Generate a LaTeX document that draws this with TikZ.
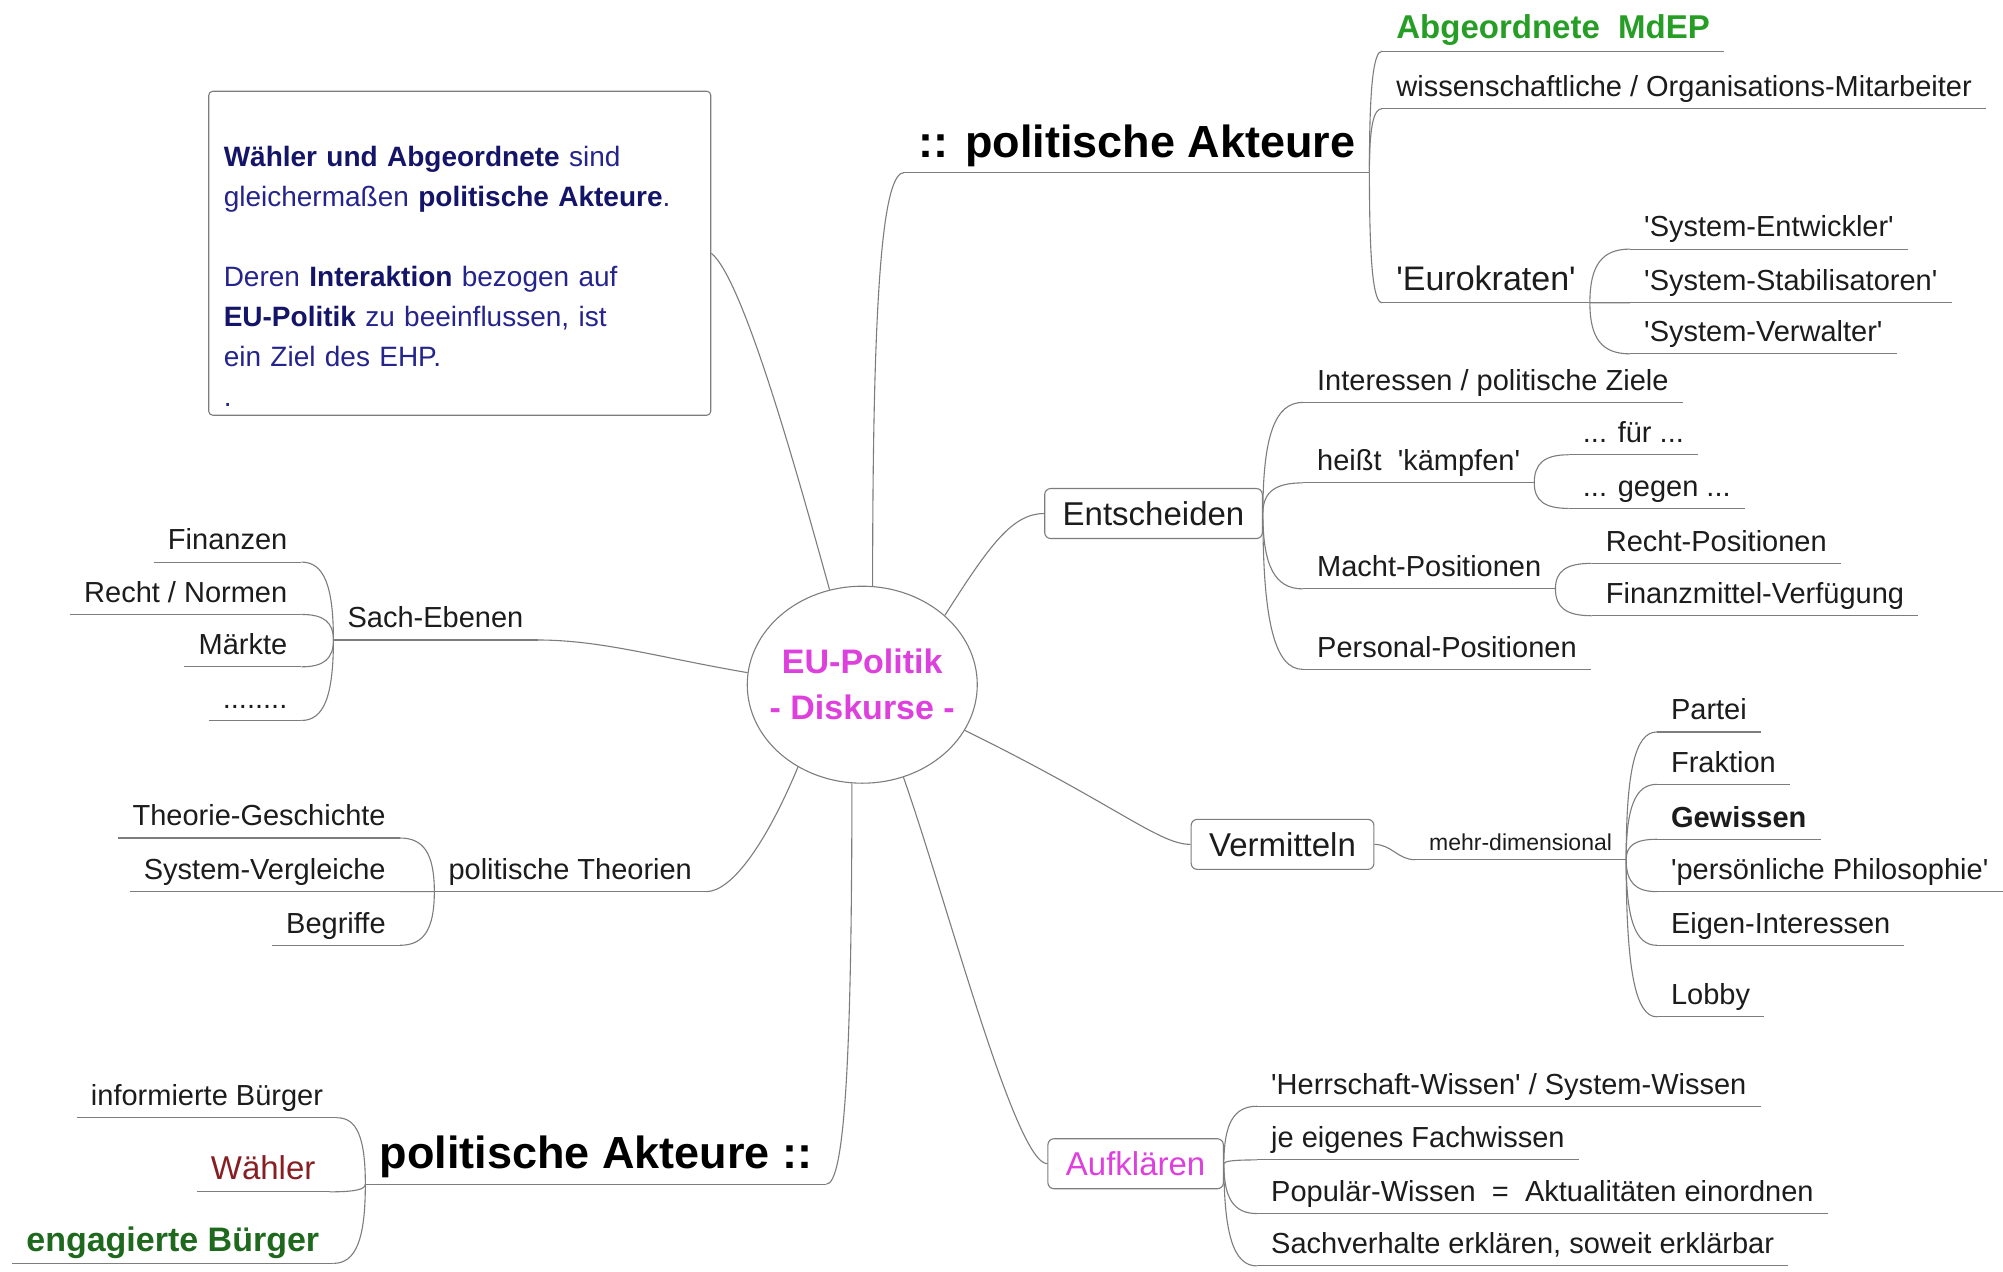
\documentclass[tikz,border=0pt]{standalone}
\usepackage{fontspec}
\setmainfont{Liberation Sans}
\usetikzlibrary{shapes.geometric,calc}
\definecolor{lgray}{RGB}{125,125,125}
\definecolor{txt}{RGB}{28,28,28}
\definecolor{eumag}{RGB}{222,64,222}
\definecolor{mdepgreen}{RGB}{38,158,38}
\definecolor{darkgreen}{RGB}{30,105,30}
\definecolor{darkred}{RGB}{135,30,35}
\definecolor{navy}{RGB}{36,36,140}
\definecolor{navybold}{RGB}{20,20,105}
\newcommand{\sqt}{\textquotesingle}
\newcommand{\nb}[1]{\textbf{\color{navybold}#1}}

\begin{document}
\begin{tikzpicture}[x=1.2774pt, y=-1.2774pt,
    lnk/.style={draw=lgray, line width=1.1pt},
    mm/.style={to path={.. controls ($(\tikztostart)!0.7!(\tikztostart|-\tikztotarget)$) and ($(\tikztotarget)!0.7!(\tikztostart|-\tikztotarget)$) .. (\tikztotarget)}},
    topic/.style={inner xsep=14pt, inner ysep=0pt, text height=22pt, text depth=12pt, text=txt,
      font=\fontsize{29}{34}\selectfont,
      append after command={(\tikzlastnode.south west) edge[lnk] (\tikzlastnode.south east)}},
    bigtopic/.style={topic, text height=33pt, text depth=15pt, text=black,
      font=\bfseries\fontsize{45}{50}\selectfont},
    box/.style={draw=lgray, line width=1.1pt, rounded corners=6pt, inner xsep=18pt,
      minimum height=50pt, text=txt, font=\fontsize{33}{38}\selectfont},
    centre/.style={ellipse, draw=lgray, line width=1.1pt, minimum width=230pt, minimum height=197pt,
      inner sep=-15pt, align=center, text=eumag, font=\bfseries\fontsize{34}{46}\selectfont},
    notebox/.style={draw=lgray, line width=1.1pt, rounded corners=4pt, anchor=north west,
      text width=472pt, minimum height=324pt, inner xsep=15pt, inner ysep=9pt, align=left,
      text=navy, font=\fontsize{28}{40}\selectfont}]
  \useasboundingbox[fill=white] (0,0) rectangle (1568,995);

  \node[centre] (eu) at (675,536) {EU-Politik\\- Diskurse -};
  \node[notebox] (note) at (163,71) {\rule{0pt}{66pt}\nb{Wähler und Abgeordnete} sind\\
    gleichermaßen \nb{politische Akteure}.\\[40pt]
    Deren \nb{Interaktion} bezogen auf\\
    \nb{EU-Politik} zu beeinflussen, ist\\
    ein Ziel des EHP.\\
    .};

  \node[bigtopic, anchor=south east] (akt1) at (1072,135) {:: politische Akteure};
  \node[topic, anchor=south west, text=mdepgreen, font=\bfseries\fontsize{33}{38}\selectfont] (abg) at (1082,40) {Abgeordnete\ \ MdEP};
  \node[topic, anchor=south west] (wiss) at (1082,85) {wissenschaftliche / Organisations-Mitarbeiter};
  \node[topic, anchor=south west, font=\fontsize{34}{38}\selectfont] (euro) at (1082,237) {\sqt Eurokraten\sqt};
  \node[topic, anchor=south west] (se1) at (1276,195) {\sqt System-Entwickler\sqt};
  \node[topic, anchor=south west] (se2) at (1276,237) {\sqt System-Stabilisatoren\sqt};
  \node[topic, anchor=south west] (se3) at (1276,277) {\sqt System-Verwalter\sqt};

  \node[box] (ent) at (903,402) {Entscheiden};
  \node[topic, anchor=south west] (ziele) at (1020,315) {Interessen / politische Ziele};
  \node[topic, anchor=south west] (kampf) at (1020,378) {heißt\ \ \sqt kämpfen\sqt};
  \node[topic, anchor=south west] (fuer) at (1228,356) {... für ...};
  \node[topic, anchor=south west] (gegen) at (1228,398) {... gegen ...};
  \node[topic, anchor=south west] (macht) at (1020,461) {Macht-Positionen};
  \node[topic, anchor=south west] (rpos) at (1246,441) {Recht-Positionen};
  \node[topic, anchor=south west] (fmv) at (1246,482) {Finanzmittel-Verfügung};
  \node[topic, anchor=south west] (pers) at (1020,524) {Personal-Positionen};

  \node[box] (verm) at (1004,661) {Vermitteln};
  \node[topic, anchor=south east, text depth=9pt, font=\fontsize{23}{26}\selectfont] (mehr) at (1273,673) {mehr-dimensional};
  \node[topic, anchor=south west] (partei) at (1297,573) {Partei};
  \node[topic, anchor=south west] (frak) at (1297,614) {Fraktion};
  \node[topic, anchor=south west, font=\bfseries\fontsize{29}{34}\selectfont] (gew) at (1297,657) {Gewissen};
  \node[topic, anchor=south west] (phil) at (1297,698) {\sqt persönliche Philosophie\sqt};
  \node[topic, anchor=south west] (eigen) at (1297,740) {Eigen-Interessen};
  \node[topic, anchor=south west] (lobby) at (1297,796) {Lobby};

  \node[box, text=eumag] (auf) at (889,911) {Aufklären};
  \node[topic, anchor=south west] (herr) at (984,866) {\sqt Herrschaft-Wissen\sqt\ / System-Wissen};
  \node[topic, anchor=south west] (fach) at (984,908) {je eigenes Fachwissen};
  \node[topic, anchor=south west] (pop) at (984,950) {Populär-Wissen\ \ =\ \ Aktualitäten einordnen};
  \node[topic, anchor=south west] (sachv) at (984,991) {Sachverhalte erklären, soweit erklärbar};

  \node[topic, anchor=south west] (sach) at (261,501) {Sach-Ebenen};
  \node[topic, anchor=south east] (fin) at (236,440) {Finanzen};
  \node[topic, anchor=south east] (rn) at (236,481) {Recht / Normen};
  \node[topic, anchor=south east] (mkt) at (236,522) {Märkte};
  \node[topic, anchor=south east] (dots) at (236,564) {........};

  \node[topic, anchor=south west] (theo) at (340,698) {politische Theorien};
  \node[topic, anchor=south east] (tg) at (313,656) {Theorie-Geschichte};
  \node[topic, anchor=south east] (sv) at (313,698) {System-Vergleiche};
  \node[topic, anchor=south east] (begr) at (313,740) {Begriffe};

  \node[bigtopic, anchor=south west] (akt2) at (286,927) {politische Akteure ::};
  \node[topic, anchor=south east] (inf) at (264,875) {informierte Bürger};
  \node[topic, anchor=south east, text=darkred, font=\fontsize{33}{38}\selectfont] (waehler) at (258,933) {Wähler};
  \node[topic, anchor=south east, text=darkgreen, font=\bfseries\fontsize{34}{38}\selectfont] (eng) at (261,989) {engagierte Bürger};

  \draw[lnk] (note.east) .. controls +(25,20) and +(-25,-90) .. (eu.109);
  \draw[lnk] (eu.84) to[mm] (akt1.south west);
  \draw[lnk] (eu.40) .. controls +(35,-55) and +(-25,0) .. (ent.west);
  \draw[lnk] (eu.-24) .. controls +(120,59) and +(-25,0) .. (verm.west);
  \draw[lnk] (eu.-66) .. controls +(35,100) and +(-25,0) .. (auf.west);
  \draw[lnk] (eu.264) to[mm] (akt2.south east);
  \draw[lnk] (eu.232) .. controls +(-25,60) and +(20,0) .. (theo.south east);
  \draw[lnk] (eu.174) .. controls +(-70,-12) and +(50,0) .. (sach.south east);

  \draw[lnk] (akt1.south east) to[mm] (abg.south west);
  \draw[lnk] (akt1.south east) to[mm] (wiss.south west);
  \draw[lnk] (akt1.south east) to[mm] (euro.south west);
  \draw[lnk] (euro.south east) to[mm] (se1.south west);
  \draw[lnk] (euro.south east) to[mm] (se2.south west);
  \draw[lnk] (euro.south east) to[mm] (se3.south west);

  \draw[lnk] (ent.east) to[mm] (ziele.south west);
  \draw[lnk] (ent.east) to[mm] (kampf.south west);
  \draw[lnk] (ent.east) to[mm] (macht.south west);
  \draw[lnk] (ent.east) to[mm] (pers.south west);
  \draw[lnk] (kampf.south east) to[mm] (fuer.south west);
  \draw[lnk] (kampf.south east) to[mm] (gegen.south west);
  \draw[lnk] (macht.south east) to[mm] (rpos.south west);
  \draw[lnk] (macht.south east) to[mm] (fmv.south west);

  \draw[lnk] (verm.east) to[out=0,in=180] (mehr.south west);
  \draw[lnk] (mehr.south east) to[mm] (partei.south west);
  \draw[lnk] (mehr.south east) to[mm] (frak.south west);
  \draw[lnk] (mehr.south east) to[mm] (gew.south west);
  \draw[lnk] (mehr.south east) to[mm] (phil.south west);
  \draw[lnk] (mehr.south east) to[mm] (eigen.south west);
  \draw[lnk] (mehr.south east) to[mm] (lobby.south west);

  \draw[lnk] (auf.east) to[mm] (herr.south west);
  \draw[lnk] (auf.east) to[mm] (fach.south west);
  \draw[lnk] (auf.east) to[mm] (pop.south west);
  \draw[lnk] (auf.east) to[mm] (sachv.south west);

  \draw[lnk] (sach.south west) to[mm] (fin.south east);
  \draw[lnk] (sach.south west) to[mm] (rn.south east);
  \draw[lnk] (sach.south west) to[mm] (mkt.south east);
  \draw[lnk] (sach.south west) to[mm] (dots.south east);

  \draw[lnk] (theo.south west) to[mm] (tg.south east);
  \draw[lnk] (theo.south west) to[mm] (sv.south east);
  \draw[lnk] (theo.south west) to[mm] (begr.south east);

  \draw[lnk] (akt2.south west) to[mm] (inf.south east);
  \draw[lnk] (akt2.south west) to[mm] (waehler.south east);
  \draw[lnk] (akt2.south west) to[mm] (eng.south east);
\end{tikzpicture}
\end{document}
